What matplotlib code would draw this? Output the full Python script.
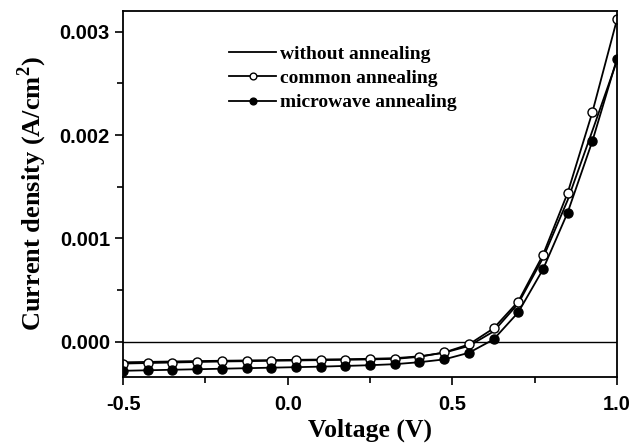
import numpy as np
import matplotlib
matplotlib.use('Agg')
import matplotlib.pyplot as plt
from matplotlib.ticker import MultipleLocator, FormatStrFormatter

plt.rcParams['mathtext.fontset'] = 'custom'
plt.rcParams['mathtext.rm'] = 'Liberation Serif:bold'
plt.rcParams['mathtext.bf'] = 'Liberation Serif:bold'

voltage = [-0.5, -0.425, -0.35, -0.275, -0.2, -0.125, -0.05, 0.025, 0.1, 0.175,
           0.25, 0.325, 0.4, 0.475, 0.55, 0.625, 0.7, 0.775, 0.85, 0.925, 1.0]

without = [-0.000198, -0.000194, -0.000190, -0.000186, -0.000183, -0.000180, -0.000177,
           -0.000174, -0.000171, -0.000168, -0.000164, -0.000158, -0.000140, -0.000105,
           -0.000040, 0.000100, 0.000370, 0.000810, 0.001370, 0.002040, 0.002720]

common = [-0.000210, -0.000205, -0.000200, -0.000195, -0.000190, -0.000187, -0.000183,
          -0.000180, -0.000177, -0.000174, -0.000170, -0.000165, -0.000145, -0.000103,
          -0.000025, 0.000130, 0.000390, 0.000840, 0.001440, 0.002220, 0.003120]

microwave = [-0.000280, -0.000275, -0.000270, -0.000265, -0.000260, -0.000255, -0.000250,
             -0.000245, -0.000240, -0.000233, -0.000226, -0.000216, -0.000197, -0.000170,
             -0.000106, 0.000023, 0.000285, 0.000700, 0.001250, 0.001940, 0.002740]

fig = plt.figure(figsize=(6.41, 4.48), dpi=100)
ax = fig.add_axes([0.192, 0.1585, 0.7706, 0.817])

ax.axhline(0, color='black', lw=1.0)
ax.plot(voltage, without, color='black', lw=1.3, label='without annealing')
ax.plot(voltage, common, color='black', lw=1.3, marker='o', ms=6.5,
        mfc='white', mec='black', mew=1.0, label='common annealing')
ax.plot(voltage, microwave, color='black', lw=1.3, marker='o', ms=6.5,
        mfc='black', mec='black', mew=1.0, label='microwave annealing')

ax.set_xlim(-0.5, 1.0)
ax.set_ylim(-0.00034, 0.0032)
ax.xaxis.set_major_locator(MultipleLocator(0.5))
ax.xaxis.set_minor_locator(MultipleLocator(0.25))
ax.yaxis.set_major_locator(MultipleLocator(0.001))
ax.yaxis.set_minor_locator(MultipleLocator(0.0005))
ax.xaxis.set_major_formatter(FormatStrFormatter('%.1f'))
ax.yaxis.set_major_formatter(FormatStrFormatter('%.3f'))
ax.tick_params(which='major', direction='out', length=6, width=1.2)
ax.tick_params(which='minor', direction='out', length=4, width=1.2)
ax.tick_params(axis='x', pad=7)
for lab in ax.get_xticklabels() + ax.get_yticklabels():
    lab.set_fontfamily('Liberation Sans')
    lab.set_fontweight('bold')
    lab.set_fontsize(14.5)
for s in ax.spines.values():
    s.set_linewidth(1.3)

ax.set_xlabel('Voltage (V)', fontfamily='Liberation Serif', fontweight='bold', fontsize=18.5,
              labelpad=3)
ax.set_ylabel('Current density (A/cm$^{\\mathbf{2}}$)', fontfamily='Liberation Serif',
              fontweight='bold', fontsize=19, labelpad=8)

leg = ax.legend(loc='upper left', bbox_to_anchor=(0.18, 0.955), frameon=False,
                prop={'family': 'Liberation Serif', 'weight': 'bold', 'size': 14},
                handlelength=2.4, handletextpad=0.2, labelspacing=0.35, markerscale=0.75)

fig.savefig('out.png', dpi=100)
